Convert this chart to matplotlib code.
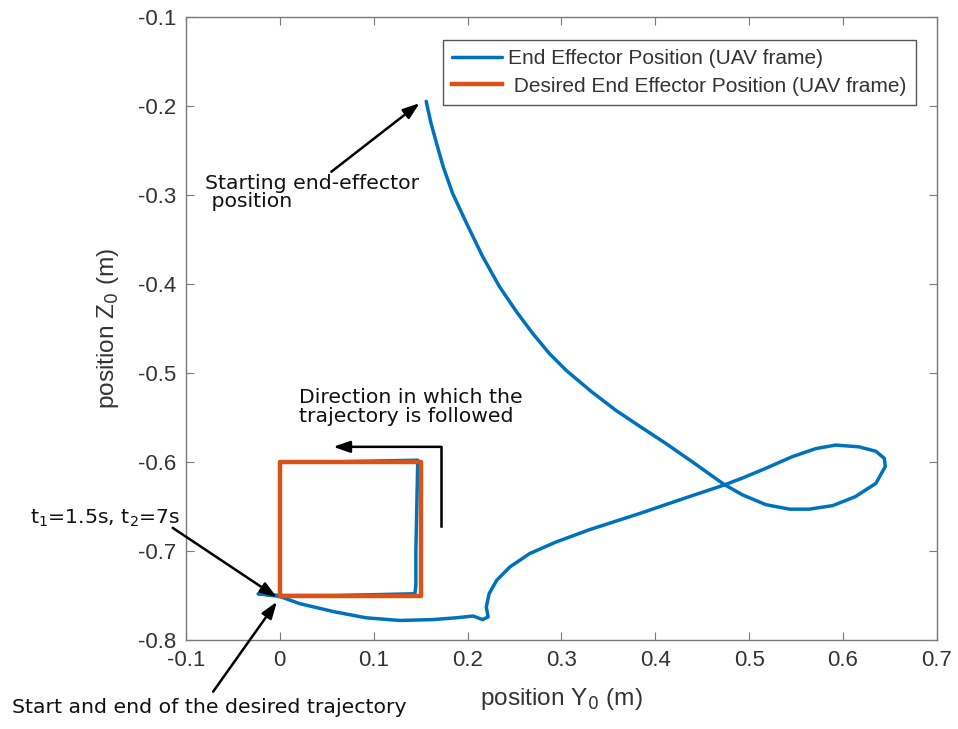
import matplotlib
matplotlib.use("Agg")
import matplotlib.pyplot as plt

# ---- data ----
# actual end-effector path (Y0, Z0), in time order
actual_y = [0.156, 0.161, 0.167, 0.174, 0.184, 0.199, 0.216, 0.234, 0.252, 0.269,
            0.287, 0.305, 0.332, 0.358, 0.385, 0.411, 0.441, 0.473,
            0.493, 0.518, 0.543, 0.564, 0.589, 0.613, 0.635, 0.645, 0.644, 0.635,
            0.617, 0.592, 0.571, 0.546, 0.518, 0.493, 0.473,
            0.436, 0.383, 0.330, 0.294, 0.266, 0.245, 0.231, 0.223, 0.220, 0.222,
            0.216, 0.206, 0.188, 0.163, 0.128, 0.092, 0.057, 0.021, 0.000, -0.023,
            -0.010, 0.000, 0.060, 0.144, 0.145, 0.145, 0.146, 0.147, 0.100,
            0.050, 0.000, 0.000, 0.000]
actual_z = [-0.195, -0.219, -0.242, -0.268, -0.298, -0.332, -0.369, -0.403, -0.431, -0.455,
            -0.478, -0.497, -0.521, -0.542, -0.561, -0.579, -0.601, -0.625,
            -0.637, -0.648, -0.653, -0.653, -0.649, -0.639, -0.624, -0.605, -0.596, -0.588,
            -0.583, -0.581, -0.585, -0.594, -0.607, -0.618, -0.626,
            -0.639, -0.658, -0.676, -0.690, -0.703, -0.718, -0.733, -0.748, -0.763, -0.774,
            -0.777, -0.773, -0.775, -0.777, -0.778, -0.775, -0.768, -0.759, -0.751, -0.748,
            -0.749, -0.750, -0.750, -0.748, -0.738, -0.700, -0.650, -0.598, -0.599,
            -0.600, -0.600, -0.680, -0.750]

desired_y = [0.0, 0.15, 0.15, 0.0, 0.0]
desired_z = [-0.75, -0.75, -0.60, -0.60, -0.75]

xticks = [-0.1, 0, 0.1, 0.2, 0.3, 0.4, 0.5, 0.6, 0.7]
yticks = [-0.8, -0.7, -0.6, -0.5, -0.4, -0.3, -0.2, -0.1]
xtick_labels = ['-0.1', '0', '0.1', '0.2', '0.3', '0.4', '0.5', '0.6', '0.7']
ytick_labels = ['-0.8', '-0.7', '-0.6', '-0.5', '-0.4', '-0.3', '-0.2', '-0.1']

legend_labels = ['End Effector Position (UAV frame)',
                 ' Desired End Effector Position (UAV frame)']

# annotations: text, text anchor, arrow tail, arrow head
start_text = 'Starting end-effector\n position'
start_text_pos = (-0.080, -0.2765)
start_arrow = [(0.055, -0.274), (0.149, -0.197)]

t_text = 't$_1$=1.5s, t$_2$=7s'
t_text_pos = (-0.106, -0.669)
t_arrow = [(-0.114, -0.674), (-0.003, -0.752)]

se_text = 'Start and end of the desired trajectory'
se_text_pos = (-0.285, -0.882)
se_arrow = [(-0.071, -0.858), (-0.003, -0.757)]

dir_text = 'Direction in which the\ntrajectory is followed'
dir_text_pos = (0.021, -0.5165)
dir_path_y = [0.172, 0.172, 0.057]
dir_path_z = [-0.672, -0.583, -0.583]

# ---- figure ----
blue = '#0072BD'
orange = '#D95319'
axcol = '#7a7a7a'
txtcol = '#333333'

fig = plt.figure(figsize=(9.58, 7.29), dpi=100)
ax = fig.add_axes([0.194, 0.122, 0.784, 0.855])

l1, = ax.plot(actual_y, actual_z, color=blue, lw=2.5, solid_joinstyle='round',
              solid_capstyle='round', zorder=3)
l2, = ax.plot(desired_y, desired_z, color=orange, lw=3.2, zorder=4)

ax.set_xlim(-0.1, 0.7)
ax.set_ylim(-0.8, -0.1)
ax.set_xticks(xticks)
ax.set_xticklabels(xtick_labels)
ax.set_yticks(yticks)
ax.set_yticklabels(ytick_labels)

for lab in ax.get_xticklabels() + ax.get_yticklabels():
    lab.set_fontfamily('Liberation Sans')
    lab.set_fontsize(16)
    lab.set_color(txtcol)

ax.tick_params(direction='in', length=6, width=0.8, color=axcol,
               top=True, right=True)
ax.tick_params(axis='x', pad=7)
ax.tick_params(axis='y', pad=7)
for sp in ax.spines.values():
    sp.set_color(axcol)
    sp.set_linewidth(1.0)

ax.set_xlabel('position Y$_0$ (m)', fontfamily='Liberation Sans', fontsize=17.6,
              color=txtcol, labelpad=11)
ax.set_ylabel('position Z$_0$ (m)', fontfamily='Liberation Sans', fontsize=17.6,
              color=txtcol, labelpad=12)

leg = ax.legend([l1, l2], legend_labels, loc='upper right',
                bbox_to_anchor=(0.972, 0.963), borderaxespad=0,
                prop=dict(family='Liberation Sans', size=15),
                fancybox=False, framealpha=1, edgecolor='#555555',
                handlelength=2.4, handletextpad=0.3, labelspacing=0.4,
                borderpad=0.45)
leg.get_frame().set_linewidth(1.0)
for t in leg.get_texts():
    t.set_color(txtcol)

afont = dict(family='DejaVu Sans', size=14.7, color='#111111')
arrowprops = dict(arrowstyle='-|>,head_length=1.0,head_width=0.35', color='black',
                  lw=1.8, shrinkA=0, shrinkB=0)

ax.text(start_text_pos[0], start_text_pos[1], start_text, ha='left', va='top',
        linespacing=0.95, **afont)
ax.annotate('', xy=start_arrow[1], xytext=start_arrow[0], annotation_clip=False,
            arrowprops=arrowprops)

ax.text(t_text_pos[0], t_text_pos[1], t_text, ha='right', va='baseline',
        clip_on=False, **afont)
ax.annotate('', xy=t_arrow[1], xytext=t_arrow[0], annotation_clip=False,
            arrowprops=arrowprops)

ax.text(se_text_pos[0], se_text_pos[1], se_text, ha='left', va='baseline',
        clip_on=False, **afont)
ax.annotate('', xy=se_arrow[1], xytext=se_arrow[0], annotation_clip=False,
            arrowprops=arrowprops)

ax.text(dir_text_pos[0], dir_text_pos[1], dir_text, ha='left', va='top',
        linespacing=1.0, **afont)
ax.plot(dir_path_y[:2], dir_path_z[:2], color='black', lw=1.8, zorder=5)
ax.annotate('', xy=(dir_path_y[2], dir_path_z[2]), xytext=(dir_path_y[1], dir_path_z[1]),
            arrowprops=arrowprops, zorder=5)

fig.savefig('out.png', dpi=100)
